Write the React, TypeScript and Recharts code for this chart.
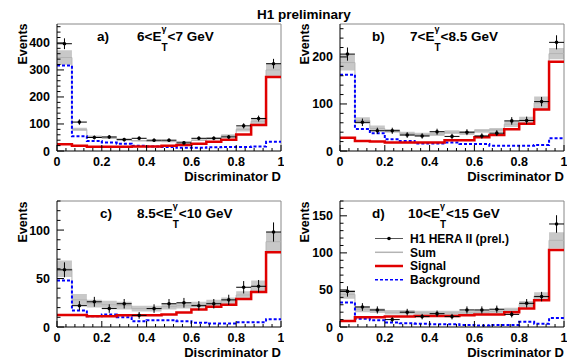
import React from "react";
import {
  ComposedChart,
  Line,
  Area,
  Scatter,
  ErrorBar,
  XAxis,
  YAxis,
  ReferenceLine,
} from "recharts";

// bin edges and centres of the discriminator histogram (15 bins)
const edges = [
  0, 0.0667, 0.1333, 0.2, 0.2667, 0.3333, 0.4, 0.4667, 0.5333, 0.6, 0.6667,
  0.7333, 0.8, 0.8667, 0.9333, 1,
];
const centers = [
  0.0333, 0.1, 0.1667, 0.2333, 0.3, 0.3667, 0.4333, 0.5, 0.5667, 0.6333, 0.7,
  0.7667, 0.8333, 0.9, 0.9667,
];
const binHalf = 0.0333;

// a) 6 < Et < 7 GeV
const dataA = [397, 107, 50, 52, 42, 47, 40, 40, 30, 47, 47, 52, 93, 120, 323];
const errA = [20, 10, 7, 7, 6.5, 7, 6.3, 6.3, 5.5, 7, 7, 7, 9.6, 11, 18];
const sigA = [25, 19, 16, 16, 16, 17, 17, 19, 22, 27, 34, 42, 61, 96, 274];
const bgA = [316, 55, 37, 31, 27, 19, 17, 15, 12, 12, 14, 15, 15, 17, 34];
const sumA = [346, 80, 53, 48, 43, 38, 36, 35, 34, 40, 47, 57, 80, 110, 300];
const sumErrA = [27, 6, 4, 4, 4, 3, 3, 3, 3, 3, 4, 5, 8, 13, 25];

// b) 7 < Et < 8.5 GeV
const dataB = [206, 61, 43, 43, 34, 32, 41, 31, 40, 32, 38, 64, 65, 105, 231];
const errB = [14, 8, 6.5, 6.5, 6, 5.7, 6.4, 5.6, 6.3, 5.7, 6.2, 8, 8, 10, 15];
const sigB = [28, 21, 20, 18, 18, 18, 18, 23, 23, 29, 34, 46, 58, 88, 190];
const bgB = [162, 47, 38, 25, 21, 16, 16, 18, 15, 15, 11, 11, 11, 13, 27];
const sumB = [188, 65, 48, 43, 37, 35, 36, 40, 38, 43, 45, 57, 65, 102, 207];
const sumErrB = [17, 7, 6, 4, 4, 4, 4, 4, 4, 4, 4, 6, 8, 14, 12];

// c) 8.5 < Et < 10 GeV
const dataC = [59, 22, 26, 19, 24, 12, 19, 24, 25, 22, 24, 28, 41, 42, 98];
const errC = [7.7, 4.7, 5.1, 4.4, 4.9, 3.5, 4.4, 4.9, 5, 4.7, 4.9, 5.3, 6.4, 6.5, 9.9];
const sigC = [12.4, 12.4, 11, 11, 12, 12, 12, 13, 15, 18, 21, 23, 29, 36, 77];
const bgC = [48, 17, 11, 13, 10, 6, 7, 7, 6, 4.5, 3.5, 3.5, 5, 5, 8];
const sumC = [60, 28, 24, 23, 22, 19, 19, 21, 22, 23, 25, 27, 33, 42, 88];
const sumErrC = [8.5, 6, 4, 4, 4, 3, 3, 3, 3, 3, 3, 3.5, 4, 6, 10];

// d) 10 < Et < 15 GeV
const dataD = [48, 27, 23, 10, 20, 14, 18, 14, 23, 23, 24, 17, 32, 41, 139];
const errD = [7, 5.2, 4.8, 3.2, 4.5, 3.7, 4.2, 3.7, 4.8, 4.8, 4.9, 4.1, 5.7, 6.4, 11.8];
const sigD = [8, 13, 13, 14, 14, 15, 15, 15, 16, 17, 17, 20, 25, 36, 104];
const bgD = [33, 11, 9, 6, 5, 4.5, 3.6, 3.6, 2.7, 2, 2.7, 2.7, 7, 4.5, 12];
const sumD = [44, 24, 22, 20, 20, 19, 19, 19, 19, 20, 21, 23, 31, 42, 117];
const sumErrD = [6, 4, 3, 3, 3, 3, 3, 3, 3, 3, 3, 3, 4, 5, 11];

const xTicks = [
  0, 0.04, 0.08, 0.12, 0.16, 0.2, 0.24, 0.28, 0.32, 0.36, 0.4, 0.44, 0.48, 0.52,
  0.56, 0.6, 0.64, 0.68, 0.72, 0.76, 0.8, 0.84, 0.88, 0.92, 0.96, 1,
];
const xMajors = [0, 0.2, 0.4, 0.6, 0.8, 1];

const yTicksA = [0, 20, 40, 60, 80, 100, 120, 140, 160, 180, 200, 220, 240, 260, 280, 300, 320, 340, 360, 380, 400, 420, 440, 460];
const yMajorsA = [0, 100, 200, 300, 400];
const yTicksB = [0, 20, 40, 60, 80, 100, 120, 140, 160, 180, 200, 220, 240, 260];
const yMajorsB = [0, 100, 200];
const yTicksC = [0, 10, 20, 30, 40, 50, 60, 70, 80, 90, 100, 110, 120, 130];
const yMajorsC = [0, 50, 100];
const yTicksD = [0, 10, 20, 30, 40, 50, 60, 70, 80, 90, 100, 110, 120, 130, 140, 150, 160, 170];
const yMajorsD = [0, 50, 100, 150];

const legendNames = ["H1 HERA II (prel.)", "Sum", "Signal", "Background"];

const FONT = "'Liberation Sans', Arial, Helvetica, sans-serif";
const Y_GAP = 7;

const makeYTick = (majors: number[]) => (props: any) => {
  const { x, y, payload } = props;
  const major = majors.includes(payload.value);
  const ax = x + Y_GAP;
  return (
    <g>
      <line x1={ax} x2={ax + (major ? 7 : 3.5)} y1={y} y2={y} stroke="#000" />
      {major && (
        <text x={x} y={y + 4.5} textAnchor="end" fontFamily={FONT} fontWeight="bold" fontSize={12.5} fill="#000">
          {payload.value}
        </text>
      )}
    </g>
  );
};

const XTick = (props: any) => {
  const { x, y, payload } = props;
  const major = xMajors.includes(payload.value);
  return (
    <g>
      <line x1={x} x2={x} y1={y} y2={y - (major ? 6 : 3)} stroke="#000" />
      {major && (
        <text x={x} y={y + 15} textAnchor="middle" fontFamily={FONT} fontWeight="bold" fontSize={12.5} fill="#000">
          {payload.value}
        </text>
      )}
    </g>
  );
};

const Dot = (p: any) => <circle cx={p.cx} cy={p.cy} r={1.8} fill="#000" />;

interface PanelProps {
  left: number;
  top: number;
  width: number;
  height: number;
  yWidth: number;
  xHeight: number;
  marginTop: number;
  ymax: number;
  yTicks: number[];
  yMajors: number[];
  data: number[];
  err: number[];
  sig: number[];
  bg: number[];
  sum: number[];
  sumErr: number[];
}

const Panel: React.FC<PanelProps> = (p) => {
  const hist = edges.map((x, i) => {
    const k = Math.min(i, 14);
    return { x, sig: p.sig[k], bg: p.bg[k], sum: p.sum[k], band: [p.sum[k] - p.sumErr[k], p.sum[k] + p.sumErr[k]] };
  });
  const pts = centers.map((x, i) => ({ x, y: p.data[i], ey: p.err[i], ex: binHalf }));
  return (
    <div style={{ position: "absolute", left: p.left, top: p.top }}>
      <ComposedChart
        width={p.width}
        height={p.height}
        data={hist}
        margin={{ top: p.marginTop, right: 3, left: 0, bottom: 0 }}
      >
        <XAxis
          dataKey="x"
          type="number"
          domain={[0, 1]}
          ticks={xTicks}
          interval={0}
          height={p.xHeight}
          tickSize={0}
          tickMargin={0}
          tickLine={false}
          tick={XTick}
          axisLine={{ stroke: "#000" }}
          allowDataOverflow
        />
        <YAxis
          type="number"
          domain={[0, p.ymax]}
          ticks={p.yTicks}
          interval={0}
          width={p.yWidth}
          tickSize={0}
          tickMargin={Y_GAP}
          tickLine={false}
          tick={makeYTick(p.yMajors)}
          axisLine={{ stroke: "#000" }}
          allowDataOverflow
        />
        <ReferenceLine y={p.ymax} stroke="#888" strokeWidth={1} />
        <ReferenceLine x={1} stroke="#888" strokeWidth={1} />
        <Area dataKey="band" type="stepAfter" fill="#c8c8c8" fillOpacity={1} stroke="none" isAnimationActive={false} />
        <Line dataKey="sum" type="stepAfter" stroke="#b4b4b4" strokeWidth={1} dot={false} activeDot={false} isAnimationActive={false} />
        <Line dataKey="bg" type="stepAfter" stroke="#0000ff" strokeWidth={2} strokeDasharray="3 2" dot={false} activeDot={false} isAnimationActive={false} />
        <Line dataKey="sig" type="stepAfter" stroke="#e00000" strokeWidth={2.5} dot={false} activeDot={false} isAnimationActive={false} />
        <Scatter data={pts} dataKey="y" shape={Dot} isAnimationActive={false}>
          <ErrorBar dataKey="ey" direction="y" width={0} stroke="#000" strokeWidth={1} />
          <ErrorBar dataKey="ex" direction="x" width={0} stroke="#000" strokeWidth={1} />
        </Scatter>
      </ComposedChart>
    </div>
  );
};

const txt = { fontFamily: FONT, fontWeight: "bold" as const, fill: "#000" };

const Formula: React.FC<{ x: number; y: number; pre: string; post: string }> = ({ x, y, pre, post }) => (
  <text x={x} y={y} fontSize={13.5} {...txt}>
    {pre}E
    <tspan dy={10} fontSize={10}>T</tspan>
    <tspan dx={-6} dy={-19} fontSize={9}>γ</tspan>
    <tspan dx={1} dy={9}>{post}</tspan>
  </text>
);

const Events: React.FC<{ x: number; y: number }> = ({ x, y }) => (
  <text transform={`translate(${x},${y}) rotate(-90)`} textAnchor="end" fontSize={12.5} {...txt}>
    Events
  </text>
);

const Disc: React.FC<{ x: number; y: number }> = ({ x, y }) => (
  <text x={x} y={y} textAnchor="end" fontSize={13} {...txt}>
    Discriminator D
  </text>
);

const legendRows = [238.5, 252.3, 266, 279.8];

export default function App() {
  return (
    <div style={{ position: "absolute", left: 0, top: 0, width: 567, height: 364, background: "#fff", overflow: "hidden" }}>
      <Panel left={0} top={0} width={284} height={176} yWidth={57} xHeight={25} marginTop={24} ymax={470}
        yTicks={yTicksA} yMajors={yMajorsA} data={dataA} err={errA} sig={sigA} bg={bgA} sum={sumA} sumErr={sumErrA} />
      <Panel left={284} top={0} width={283} height={176} yWidth={56} xHeight={25} marginTop={24} ymax={270}
        yTicks={yTicksB} yMajors={yMajorsB} data={dataB} err={errB} sig={sigB} bg={bgB} sum={sumB} sumErr={sumErrB} />
      <Panel left={0} top={176} width={284} height={188} yWidth={57} xHeight={37} marginTop={25} ymax={130}
        yTicks={yTicksC} yMajors={yMajorsC} data={dataC} err={errC} sig={sigC} bg={bgC} sum={sumC} sumErr={sumErrC} />
      <Panel left={284} top={176} width={283} height={188} yWidth={56} xHeight={37} marginTop={25} ymax={170}
        yTicks={yTicksD} yMajors={yMajorsD} data={dataD} err={errD} sig={sigD} bg={bgD} sum={sumD} sumErr={sumErrD} />

      <svg width={567} height={364} style={{ position: "absolute", left: 0, top: 0, pointerEvents: "none" }}>
        <text x={304} y={19} textAnchor="middle" fontSize={13.5} {...txt}>H1 preliminary</text>

        <Events x={26.5} y={23.5} />
        <Events x={309} y={23.5} />
        <Events x={26.5} y={201.5} />
        <Events x={309} y={201.5} />

        <Disc x={281} y={181} />
        <Disc x={564} y={181} />
        <Disc x={281} y={357} />
        <Disc x={564} y={357} />

        <text x={97} y={41} fontSize={13.5} {...txt}>a)</text>
        <Formula x={137} y={41} pre="6<" post="<7 GeV" />
        <text x={372} y={41} fontSize={13.5} {...txt}>b)</text>
        <Formula x={410} y={41} pre="7<" post="<8.5 GeV" />
        <text x={100} y={218} fontSize={13.5} {...txt}>c)</text>
        <Formula x={137} y={218} pre="8.5<" post="<10 GeV" />
        <text x={372} y={218} fontSize={13.5} {...txt}>d)</text>
        <Formula x={408} y={218} pre="10<" post="<15 GeV" />

        {/* legend in panel d */}
        <line x1={375} x2={403} y1={legendRows[0]} y2={legendRows[0]} stroke="#555" strokeWidth={1} />
        <circle cx={389} cy={legendRows[0]} r={1.8} fill="#000" />
        <line x1={375} x2={403} y1={legendRows[1]} y2={legendRows[1]} stroke="#b4b4b4" strokeWidth={1.5} />
        <line x1={375} x2={403} y1={legendRows[2]} y2={legendRows[2]} stroke="#e00000" strokeWidth={2.5} />
        <line x1={375} x2={403} y1={legendRows[3]} y2={legendRows[3]} stroke="#0000ff" strokeWidth={1.5} strokeDasharray="3 2" />
        {legendNames.map((name, i) => (
          <text key={name} x={410} y={legendRows[i] + 4.3} fontSize={12} {...txt}>{name}</text>
        ))}
      </svg>
    </div>
  );
}
